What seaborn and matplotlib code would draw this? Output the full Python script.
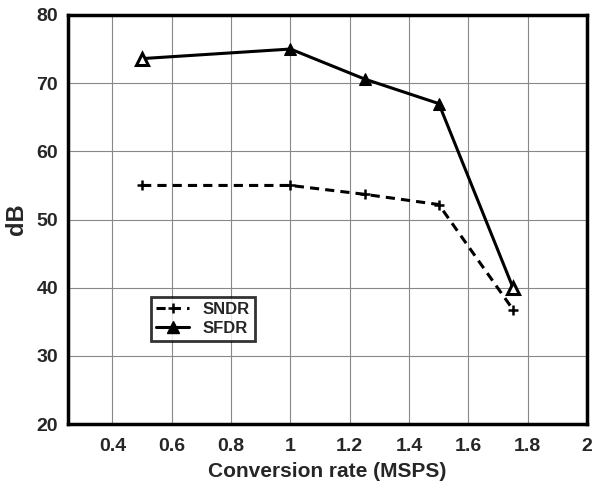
import matplotlib
matplotlib.use("Agg")
import matplotlib.pyplot as plt
from matplotlib.lines import Line2D
import seaborn as sns
import pandas as pd

# Conversion rate (MSPS) and measured dynamic performance (dB)
rate = [0.5, 1.0, 1.25, 1.5, 1.75]
sndr = [55.0, 55.0, 53.7, 52.2, 36.8]
sfdr = [73.6, 75.0, 70.6, 67.0, 40.0]
xticks = [0.4, 0.6, 0.8, 1.0, 1.2, 1.4, 1.6, 1.8, 2.0]
xticklabels = ["0.4", "0.6", "0.8", "1", "1.2", "1.4", "1.6", "1.8", "2"]
yticks = [20, 30, 40, 50, 60, 70, 80]

df = pd.DataFrame({
    "rate": rate * 2,
    "dB": sndr + sfdr,
    "metric": ["SNDR"] * len(rate) + ["SFDR"] * len(rate),
})

sns.set_theme(style="white")
plt.rcParams["font.family"] = ["Liberation Sans", "DejaVu Sans"]
plt.rcParams["font.weight"] = "bold"

fig = plt.figure(figsize=(6.01, 4.82), dpi=100)
ax = fig.add_axes([0.113, 0.120, 0.864, 0.849])

sns.lineplot(
    data=df, x="rate", y="dB", style="metric", hue="metric",
    palette={"SNDR": "black", "SFDR": "black"},
    dashes={"SNDR": (3, 2), "SFDR": ""},
    markers={"SNDR": "P", "SFDR": "^"},
    linewidth=2.2, markersize=8, ax=ax, legend=False,
)
for ln in ax.lines:
    ln.set_markerfacecolor("black")
    ln.set_markeredgecolor("black")
ax.lines[0].set_marker("+")
ax.lines[0].set_markersize(7)
ax.lines[0].set_markeredgewidth(1.8)

# open triangles at the ends of the SFDR curve
ax.plot([rate[0], rate[-1]], [sfdr[0], sfdr[-1]], linestyle="none", marker="^",
        markersize=8, markerfacecolor="white", markeredgecolor="black",
        markeredgewidth=2.2, zorder=5)

ax.set_xlim(0.25, 2.0)
ax.set_ylim(20, 80)
ax.set_xticks(xticks)
ax.set_xticklabels(xticklabels)
ax.set_yticks(yticks)
ax.grid(True, color="#888888", linewidth=0.8)
ax.tick_params(axis="x", length=0, labelsize=14, pad=10)
ax.tick_params(axis="y", length=0, labelsize=14, pad=7)
for lab in ax.get_xticklabels() + ax.get_yticklabels():
    lab.set_fontweight("bold")
for sp in ax.spines.values():
    sp.set_color("black")
    sp.set_linewidth(2.5)

ax.set_xlabel("Conversion rate (MSPS)", fontsize=15, fontweight="bold", labelpad=5)
ax.set_ylabel("dB", fontsize=17, fontweight="bold", labelpad=6)

handles = [
    Line2D([], [], color="black", linestyle=(0, (3, 2)), linewidth=2.2,
           marker="+", markersize=7, markeredgewidth=1.8),
    Line2D([], [], color="black", linestyle="-", linewidth=2.2,
           marker="^", markersize=8),
]
leg = ax.legend(handles, ["SNDR", "SFDR"], loc="upper left",
                bbox_to_anchor=(0.16, 0.31), frameon=True, fancybox=False,
                edgecolor="black", fontsize=12, handlelength=2.0,
                borderpad=0.3, labelspacing=0.2, handletextpad=0.8,
                borderaxespad=0.0)
leg.get_frame().set_linewidth(2.0)
for t in leg.get_texts():
    t.set_fontweight("bold")

fig.savefig("out.png", dpi=100)
